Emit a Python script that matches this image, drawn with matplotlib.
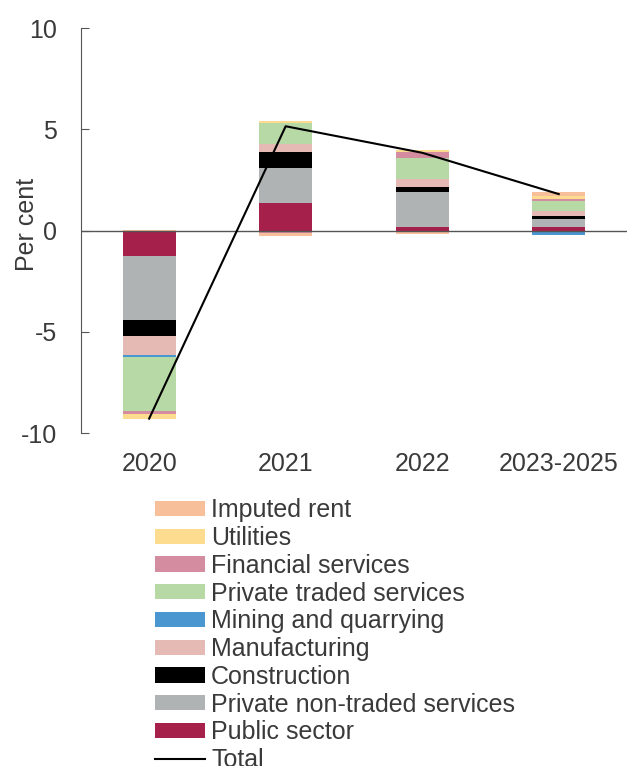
import numpy as np
import matplotlib.pyplot as plt

plt.rcParams['font.family'] = ['Liberation Sans', 'DejaVu Sans']
plt.rcParams['axes.unicode_minus'] = False

periods = ["2020", "2021", "2022", "2023-2025"]

# contributions to growth, percentage points
public_sector = [-1.24, 1.35, 0.15, 0.16]
private_non_traded = [-3.18, 1.73, 1.75, 0.43]
construction = [-0.79, 0.79, 0.25, 0.11]
manufacturing = [-0.94, 0.41, 0.38, 0.25]
mining = [-0.10, -0.05, -0.05, -0.20]
private_traded = [-2.66, 1.02, 1.07, 0.51]
financial = [-0.13, -0.08, 0.26, 0.12]
utilities = [-0.25, 0.13, 0.13, 0.11]
imputed_rent = [0.05, -0.15, -0.10, 0.20]
total = [-9.29, 5.15, 3.84, 1.80]

series = [
    ("Public sector", public_sector, "#a6204c"),
    ("Private non-traded services", private_non_traded, "#b0b3b3"),
    ("Construction", construction, "#000000"),
    ("Manufacturing", manufacturing, "#e5bab4"),
    ("Mining and quarrying", mining, "#4a96d0"),
    ("Private traded services", private_traded, "#b6d9a6"),
    ("Financial services", financial, "#d48ca0"),
    ("Utilities", utilities, "#fddc8f"),
    ("Imputed rent", imputed_rent, "#f8bf9b"),
]

text_col = "#3a3a3a"
fs = 18

fig = plt.figure(figsize=(6.27, 7.66), dpi=100)
ax = fig.add_axes([0.129, 0.4347, 0.871, 0.5287])

x = np.arange(len(periods))
pos_base = np.zeros(len(periods))
neg_base = np.zeros(len(periods))
handles = []
for name, vals, col in series:
    vals = np.array(vals)
    base = np.where(vals >= 0, pos_base, neg_base)
    b = ax.bar(x, vals, 0.39, bottom=base, color=col, label=name, zorder=2)
    handles.append(b)
    pos_base += np.where(vals >= 0, vals, 0)
    neg_base += np.where(vals < 0, vals, 0)

line, = ax.plot(x, total, color="black", lw=1.5, label="Total", zorder=4)

ax.axhline(0, color="#555555", lw=1, zorder=3)
ax.set_xlim(-0.5, 3.5)
ax.set_ylim(-10, 10)
ax.set_yticks([-10, -5, 0, 5, 10])
ax.set_xticks(x)
ax.set_xticklabels(periods)

for s in ["top", "right", "bottom"]:
    ax.spines[s].set_visible(False)
ax.spines["left"].set_color("#555555")
ax.tick_params(axis="y", direction="in", length=6, color="#555555",
               labelsize=fs, labelcolor=text_col, pad=17)
ax.tick_params(axis="x", length=0, labelsize=fs, labelcolor=text_col, pad=14)
ax.set_ylabel("Per cent", fontsize=fs, color=text_col)
ax.yaxis.set_label_coords(-0.077, 0.516)

leg = fig.legend(handles[::-1] + [line], [s[0] for s in series[::-1]] + ["Total"],
                 loc="upper left", bbox_to_anchor=(0.247, 0.3495),
                 frameon=False, fontsize=fs, handlelength=2.0,
                 handleheight=0.56, labelspacing=0.15, handletextpad=0.25,
                 borderpad=0, borderaxespad=0)
for t in leg.get_texts():
    t.set_color(text_col)

fig.savefig("out.png", dpi=100)
